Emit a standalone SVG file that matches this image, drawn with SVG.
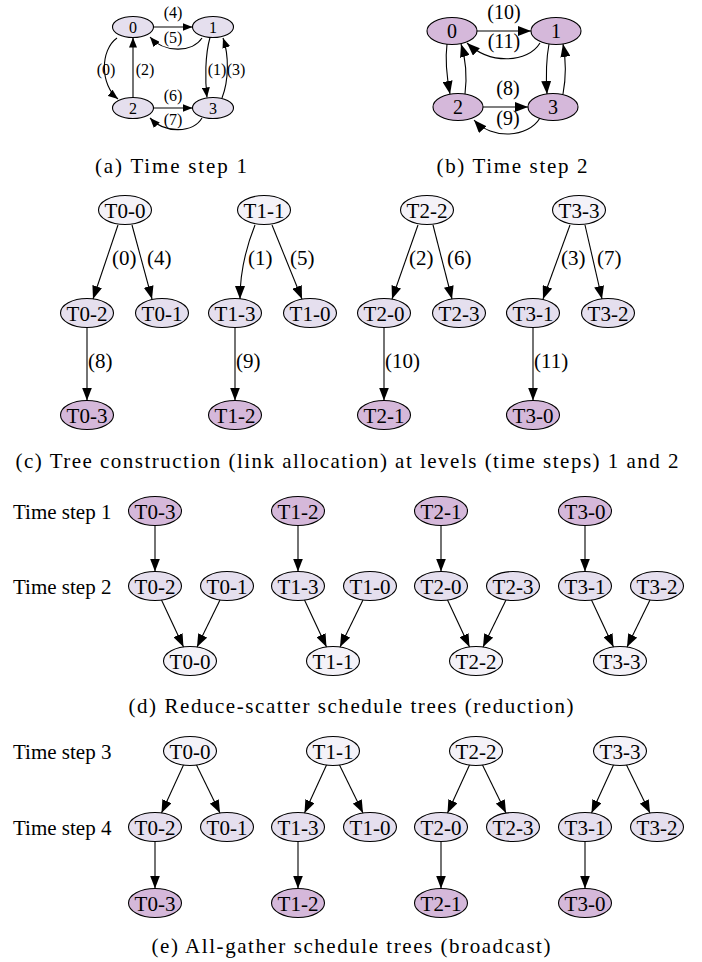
<svg xmlns="http://www.w3.org/2000/svg" width="702" height="962" viewBox="0 0 702 962" font-family="'Liberation Serif','Times New Roman',Times,serif">
<style>
text{font-family:"Liberation Serif","Times New Roman",Times,serif;fill:#000}
.n ellipse{stroke:#000;stroke-width:1.1}
.dk{fill:#D5B8DA}.md{fill:#E5DFEE}.lt{fill:#F4F2F8}
.t{font-size:21px;text-anchor:middle}
.sa{font-size:16px;text-anchor:middle}
.sb{font-size:20px;text-anchor:middle}
.el{font-size:21px}
.cap{font-size:21px;text-anchor:middle}
.lab{font-size:21px}
.e path{stroke:#000;stroke-width:1.1;fill:none;marker-end:url(#ah)}
.e .s{marker-end:url(#as)}
</style>
<defs>
<marker id="ah" markerUnits="userSpaceOnUse" markerWidth="13" markerHeight="10" refX="13" refY="5" orient="auto"><path d="M0,0L13,5L0,10z" fill="#000"/></marker>
<marker id="as" markerUnits="userSpaceOnUse" markerWidth="10" markerHeight="8" refX="10" refY="4" orient="auto"><path d="M0,0L10,4L0,8z" fill="#000"/></marker>
</defs>

<!-- (a) -->
<g id="a-0" class="n"><ellipse class="md" cx="133" cy="27" rx="20.5" ry="10.5"/><text class="sa" x="133" y="32.5">0</text></g>
<g id="a-1" class="n"><ellipse class="md" cx="213" cy="27" rx="20.5" ry="10.5"/><text class="sa" x="213" y="32.5">1</text></g>
<g id="a-2" class="n"><ellipse class="md" cx="133" cy="108" rx="20.5" ry="10.5"/><text class="sa" x="133" y="113.5">2</text></g>
<g id="a-3" class="n"><ellipse class="md" cx="213" cy="108" rx="20.5" ry="10.5"/><text class="sa" x="213" y="113.5">3</text></g>

<!-- (b) -->
<g id="b-0" class="n"><ellipse class="dk" cx="452" cy="31" rx="25" ry="13.5"/><text class="sb" x="452" y="38">0</text></g>
<g id="b-1" class="n"><ellipse class="dk" cx="556" cy="31" rx="25" ry="13.5"/><text class="sb" x="556" y="38">1</text></g>
<g id="b-2" class="n"><ellipse class="dk" cx="458" cy="107" rx="25" ry="13.5"/><text class="sb" x="458" y="114">2</text></g>
<g id="b-3" class="n"><ellipse class="dk" cx="553" cy="107" rx="25" ry="13.5"/><text class="sb" x="553" y="114">3</text></g>

<!-- (c) -->
<g id="c-T0-0" class="n"><ellipse class="lt" cx="125" cy="210" rx="26.5" ry="14.5"/><text class="t" x="125" y="217.5">T0-0</text></g>
<g id="c-T0-2" class="n"><ellipse class="md" cx="87" cy="313" rx="26.5" ry="14.5"/><text class="t" x="87" y="320.5">T0-2</text></g>
<g id="c-T0-1" class="n"><ellipse class="md" cx="162" cy="313" rx="26.5" ry="14.5"/><text class="t" x="162" y="320.5">T0-1</text></g>
<g id="c-T0-3" class="n"><ellipse class="dk" cx="87" cy="415" rx="26.5" ry="14.5"/><text class="t" x="87" y="422.5">T0-3</text></g>
<g id="c-T1-1" class="n"><ellipse class="lt" cx="264" cy="210" rx="26.5" ry="14.5"/><text class="t" x="264" y="217.5">T1-1</text></g>
<g id="c-T1-3" class="n"><ellipse class="md" cx="235" cy="313" rx="26.5" ry="14.5"/><text class="t" x="235" y="320.5">T1-3</text></g>
<g id="c-T1-0" class="n"><ellipse class="md" cx="310" cy="313" rx="26.5" ry="14.5"/><text class="t" x="310" y="320.5">T1-0</text></g>
<g id="c-T1-2" class="n"><ellipse class="dk" cx="235" cy="415" rx="26.5" ry="14.5"/><text class="t" x="235" y="422.5">T1-2</text></g>
<g id="c-T2-2" class="n"><ellipse class="lt" cx="427" cy="210" rx="26.5" ry="14.5"/><text class="t" x="427" y="217.5">T2-2</text></g>
<g id="c-T2-0" class="n"><ellipse class="md" cx="384" cy="313" rx="26.5" ry="14.5"/><text class="t" x="384" y="320.5">T2-0</text></g>
<g id="c-T2-3" class="n"><ellipse class="md" cx="459" cy="313" rx="26.5" ry="14.5"/><text class="t" x="459" y="320.5">T2-3</text></g>
<g id="c-T2-1" class="n"><ellipse class="dk" cx="384" cy="415" rx="26.5" ry="14.5"/><text class="t" x="384" y="422.5">T2-1</text></g>
<g id="c-T3-3" class="n"><ellipse class="lt" cx="579" cy="210" rx="26.5" ry="14.5"/><text class="t" x="579" y="217.5">T3-3</text></g>
<g id="c-T3-1" class="n"><ellipse class="md" cx="533" cy="313" rx="26.5" ry="14.5"/><text class="t" x="533" y="320.5">T3-1</text></g>
<g id="c-T3-2" class="n"><ellipse class="md" cx="608" cy="313" rx="26.5" ry="14.5"/><text class="t" x="608" y="320.5">T3-2</text></g>
<g id="c-T3-0" class="n"><ellipse class="dk" cx="533" cy="415" rx="26.5" ry="14.5"/><text class="t" x="533" y="422.5">T3-0</text></g>

<!-- (d) -->
<g id="d-T0-3" class="n"><ellipse class="dk" cx="155" cy="511" rx="26.5" ry="14.5"/><text class="t" x="155" y="518.5">T0-3</text></g>
<g id="d-T0-2" class="n"><ellipse class="md" cx="155" cy="586" rx="26.5" ry="14.5"/><text class="t" x="155" y="593.5">T0-2</text></g>
<g id="d-T0-1" class="n"><ellipse class="md" cx="227" cy="586" rx="26.5" ry="14.5"/><text class="t" x="227" y="593.5">T0-1</text></g>
<g id="d-T0-0" class="n"><ellipse class="lt" cx="190" cy="661" rx="26.5" ry="14.5"/><text class="t" x="190" y="668.5">T0-0</text></g>
<g id="d-T1-2" class="n"><ellipse class="dk" cx="298" cy="511" rx="26.5" ry="14.5"/><text class="t" x="298" y="518.5">T1-2</text></g>
<g id="d-T1-3" class="n"><ellipse class="md" cx="298" cy="586" rx="26.5" ry="14.5"/><text class="t" x="298" y="593.5">T1-3</text></g>
<g id="d-T1-0" class="n"><ellipse class="md" cx="370" cy="586" rx="26.5" ry="14.5"/><text class="t" x="370" y="593.5">T1-0</text></g>
<g id="d-T1-1" class="n"><ellipse class="lt" cx="333" cy="661" rx="26.5" ry="14.5"/><text class="t" x="333" y="668.5">T1-1</text></g>
<g id="d-T2-1" class="n"><ellipse class="dk" cx="441" cy="511" rx="26.5" ry="14.5"/><text class="t" x="441" y="518.5">T2-1</text></g>
<g id="d-T2-0" class="n"><ellipse class="md" cx="441" cy="586" rx="26.5" ry="14.5"/><text class="t" x="441" y="593.5">T2-0</text></g>
<g id="d-T2-3" class="n"><ellipse class="md" cx="513" cy="586" rx="26.5" ry="14.5"/><text class="t" x="513" y="593.5">T2-3</text></g>
<g id="d-T2-2" class="n"><ellipse class="lt" cx="476" cy="661" rx="26.5" ry="14.5"/><text class="t" x="476" y="668.5">T2-2</text></g>
<g id="d-T3-0" class="n"><ellipse class="dk" cx="585" cy="511" rx="26.5" ry="14.5"/><text class="t" x="585" y="518.5">T3-0</text></g>
<g id="d-T3-1" class="n"><ellipse class="md" cx="585" cy="586" rx="26.5" ry="14.5"/><text class="t" x="585" y="593.5">T3-1</text></g>
<g id="d-T3-2" class="n"><ellipse class="md" cx="657" cy="586" rx="26.5" ry="14.5"/><text class="t" x="657" y="593.5">T3-2</text></g>
<g id="d-T3-3" class="n"><ellipse class="lt" cx="620" cy="661" rx="26.5" ry="14.5"/><text class="t" x="620" y="668.5">T3-3</text></g>

<!-- (e) -->
<g id="e-T0-0" class="n"><ellipse class="lt" cx="190" cy="751" rx="26.5" ry="14.5"/><text class="t" x="190" y="758.5">T0-0</text></g>
<g id="e-T0-2" class="n"><ellipse class="md" cx="155" cy="827" rx="26.5" ry="14.5"/><text class="t" x="155" y="834.5">T0-2</text></g>
<g id="e-T0-1" class="n"><ellipse class="md" cx="227" cy="827" rx="26.5" ry="14.5"/><text class="t" x="227" y="834.5">T0-1</text></g>
<g id="e-T0-3" class="n"><ellipse class="dk" cx="155" cy="903" rx="26.5" ry="14.5"/><text class="t" x="155" y="910.5">T0-3</text></g>
<g id="e-T1-1" class="n"><ellipse class="lt" cx="333" cy="751" rx="26.5" ry="14.5"/><text class="t" x="333" y="758.5">T1-1</text></g>
<g id="e-T1-3" class="n"><ellipse class="md" cx="298" cy="827" rx="26.5" ry="14.5"/><text class="t" x="298" y="834.5">T1-3</text></g>
<g id="e-T1-0" class="n"><ellipse class="md" cx="370" cy="827" rx="26.5" ry="14.5"/><text class="t" x="370" y="834.5">T1-0</text></g>
<g id="e-T1-2" class="n"><ellipse class="dk" cx="298" cy="903" rx="26.5" ry="14.5"/><text class="t" x="298" y="910.5">T1-2</text></g>
<g id="e-T2-2" class="n"><ellipse class="lt" cx="476" cy="751" rx="26.5" ry="14.5"/><text class="t" x="476" y="758.5">T2-2</text></g>
<g id="e-T2-0" class="n"><ellipse class="md" cx="441" cy="827" rx="26.5" ry="14.5"/><text class="t" x="441" y="834.5">T2-0</text></g>
<g id="e-T2-3" class="n"><ellipse class="md" cx="513" cy="827" rx="26.5" ry="14.5"/><text class="t" x="513" y="834.5">T2-3</text></g>
<g id="e-T2-1" class="n"><ellipse class="dk" cx="441" cy="903" rx="26.5" ry="14.5"/><text class="t" x="441" y="910.5">T2-1</text></g>
<g id="e-T3-3" class="n"><ellipse class="lt" cx="620" cy="751" rx="26.5" ry="14.5"/><text class="t" x="620" y="758.5">T3-3</text></g>
<g id="e-T3-1" class="n"><ellipse class="md" cx="585" cy="827" rx="26.5" ry="14.5"/><text class="t" x="585" y="834.5">T3-1</text></g>
<g id="e-T3-2" class="n"><ellipse class="md" cx="657" cy="827" rx="26.5" ry="14.5"/><text class="t" x="657" y="834.5">T3-2</text></g>
<g id="e-T3-0" class="n"><ellipse class="dk" cx="585" cy="903" rx="26.5" ry="14.5"/><text class="t" x="585" y="910.5">T3-0</text></g>

<g id="connectors" class="e">
<!-- (a) -->
<path class="s" d="M153.5,27L192.5,27"/>
<path class="s" d="M202,38C193,52 165,54 150,37"/>
<path class="s" d="M117,38C100,50 100,85 118,99"/>
<path class="s" d="M133,97.5L133,37.5"/>
<path class="s" d="M210,37.5C205,55 205,80 207,97.5"/>
<path class="s" d="M222,98C229,80 229,55 223,38"/>
<path class="s" d="M153.5,108L192.5,108"/>
<path class="s" d="M202,118C193,133 165,134 150,118"/>
<!-- (b) -->
<path d="M477,31L531,31"/>
<path d="M540,43C528,63 490,65 467,43"/>
<path d="M447,44C445,60 447,78 450,94"/>
<path d="M465,94C467,78 466,60 461,44"/>
<path d="M549,44C546,60 546,78 547,94"/>
<path d="M563,94C566,78 566,60 563,44"/>
<path d="M483,107L528,107"/>
<path d="M540,118C528,138 492,140 474,120"/>
<!-- (c) -->
<path d="M118,225L93,299"/>
<path d="M132,225L152,299"/>
<path d="M87,327.5L87,400.5"/>
<path d="M255,225C247,245 240,270 240,299"/>
<path d="M272,225L302,299"/>
<path d="M235,327.5L235,400.5"/>
<path d="M418,225L392,299"/>
<path d="M433,225L452,299"/>
<path d="M384,327.5L384,400.5"/>
<path d="M570,225L543,299"/>
<path d="M585,225L602,299"/>
<path d="M533,327.5L533,400.5"/>
<!-- (d) -->
<path d="M155,525.5L155,571.5"/>
<path d="M161.5,600L183.5,647"/>
<path d="M220,600L197,647"/>
<path d="M298,525.5L298,571.5"/>
<path d="M304.5,600L326.5,647"/>
<path d="M363,600L340,647"/>
<path d="M441,525.5L441,571.5"/>
<path d="M447.5,600L469.5,647"/>
<path d="M506,600L483,647"/>
<path d="M585,525.5L585,571.5"/>
<path d="M591.5,600L613.5,647"/>
<path d="M650,600L627,647"/>
<!-- (e) -->
<path d="M183.5,765L161.5,813"/>
<path d="M196.5,765L220,813"/>
<path d="M155,841.5L155,888.5"/>
<path d="M326.5,765L304.5,813"/>
<path d="M339.5,765L363,813"/>
<path d="M298,841.5L298,888.5"/>
<path d="M469.5,765L447.5,813"/>
<path d="M482.5,765L506,813"/>
<path d="M441,841.5L441,888.5"/>
<path d="M613.5,765L591.5,813"/>
<path d="M626.5,765L650,813"/>
<path d="M585,841.5L585,888.5"/>
</g>

<g id="edge-labels">
<text class="sa" x="173" y="18">(4)</text>
<text class="sa" x="173" y="43">(5)</text>
<text class="sa" x="106" y="75">(0)</text>
<text class="sa" x="145" y="75">(2)</text>
<text class="sa" x="217" y="75">(1)</text>
<text class="sa" x="236" y="75">(3)</text>
<text class="sa" x="173" y="101">(6)</text>
<text class="sa" x="173" y="125">(7)</text>
<text class="sb" x="504" y="19">(10)</text>
<text class="sb" x="504" y="48">(11)</text>
<text class="sb" x="508" y="95">(8)</text>
<text class="sb" x="508" y="124.5">(9)</text>
<text class="el" x="112" y="265">(0)</text>
<text class="el" x="147" y="265">(4)</text>
<text class="el" x="248" y="265">(1)</text>
<text class="el" x="290" y="265">(5)</text>
<text class="el" x="409" y="265">(2)</text>
<text class="el" x="447" y="265">(6)</text>
<text class="el" x="561" y="265">(3)</text>
<text class="el" x="597" y="265">(7)</text>
<text class="el" x="88" y="368">(8)</text>
<text class="el" x="236" y="368">(9)</text>
<text class="el" x="385" y="368">(10)</text>
<text class="el" x="534" y="368">(11)</text>
</g>

<g id="row-labels">
<text class="lab" x="13" y="518.5">Time step 1</text>
<text class="lab" x="13" y="593.5">Time step 2</text>
<text class="lab" x="13" y="758.5">Time step 3</text>
<text class="lab" x="13" y="834.5">Time step 4</text>
</g>

<g id="captions">
<text class="cap" x="171" y="173" textLength="152">(a) Time step 1</text>
<text class="cap" x="512" y="173" textLength="151">(b) Time step 2</text>
<text class="cap" x="347" y="468" textLength="663">(c) Tree construction (link allocation) at levels (time steps) 1 and 2</text>
<text class="cap" x="351" y="713" textLength="445">(d) Reduce-scatter schedule trees (reduction)</text>
<text class="cap" x="351" y="953" textLength="399">(e) All-gather schedule trees (broadcast)</text>
</g>
</svg>
